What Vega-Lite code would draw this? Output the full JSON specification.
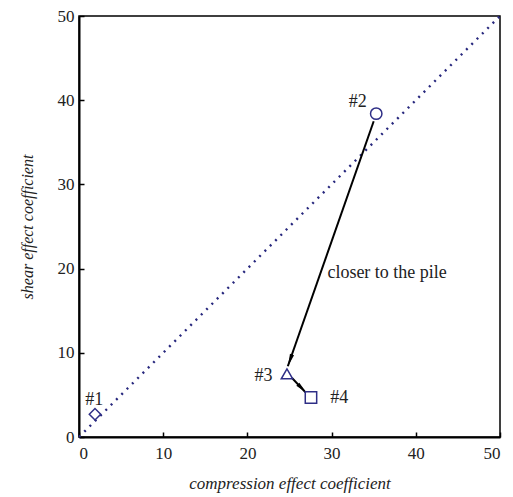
{
  "$schema": "https://vega.github.io/schema/vega-lite/v6.json",
  "width": 421,
  "height": 421,
  "autosize": {"type": "none"},
  "padding": {"left": 79, "top": 16, "right": 13, "bottom": 60},
  "background": "white",
  "config": {
    "font": "Liberation Serif",
    "view": {"stroke": "black", "strokeWidth": 1.5},
    "axis": {
      "grid": false,
      "domainColor": "black",
      "domainWidth": 2,
      "tickColor": "black",
      "tickWidth": 1.5,
      "tickSize": -5,
      "labelColor": "#222",
      "labelFontSize": 17,
      "labelFont": "Liberation Serif",
      "titleFont": "Liberation Serif",
      "titleFontSize": 17,
      "titleFontStyle": "italic",
      "titleFontWeight": "normal",
      "titleColor": "#222"
    }
  },
  "datasets": {
    "diag": [{"x": 0, "y": 0}, {"x": 50, "y": 50}],
    "points": [
      {"x": 1.9, "y": 2.7, "id": "#1", "shape": "diamond"},
      {"x": 35.3, "y": 38.4, "id": "#2", "shape": "circle"},
      {"x": 24.7, "y": 7.5, "id": "#3", "shape": "triangle-up"},
      {"x": 27.55, "y": 4.7, "id": "#4", "shape": "square"}
    ],
    "labels": [
      {"x": 1.8, "y": 4.4, "text": "#1"},
      {"x": 33.1, "y": 39.8, "text": "#2"},
      {"x": 21.9, "y": 7.2, "text": "#3"},
      {"x": 30.9, "y": 4.6, "text": "#4"}
    ],
    "arrows": [
      {"x": 35.0, "y": 37.5, "x2": 24.8, "y2": 8.4},
      {"x": 25.3, "y": 7.0, "x2": 26.9, "y2": 5.3}
    ],
    "heads": [
      {"x": 25.06, "y": 9.11, "angle": 199},
      {"x": 26.5, "y": 5.76, "angle": 135}
    ],
    "note": [{"x": 29.5, "y": 19.5, "text": "closer to the pile"}]
  },
  "layer": [
    {
      "data": {"name": "diag"},
      "mark": {"type": "line", "color": "#28287e", "strokeWidth": 2.4, "strokeDash": [2, 5.5]},
      "encoding": {
        "x": {"field": "x", "type": "quantitative", "scale": {"domain": [0, 50], "nice": false}, "axis": {"values": [0, 10, 20, 30, 40, 50], "title": "compression effect coefficient", "labelPadding": 13, "titlePadding": 14}},
        "y": {"field": "y", "type": "quantitative", "scale": {"domain": [0, 50], "nice": false}, "axis": {"values": [0, 10, 20, 30, 40, 50], "title": "shear effect coefficient", "titleFontSize": 16, "labelPadding": 10, "titlePadding": 22}}
      }
    },
    {
      "data": {"name": "arrows"},
      "mark": {"type": "rule", "color": "black", "strokeWidth": 2},
      "encoding": {
        "x": {"field": "x", "type": "quantitative"},
        "y": {"field": "y", "type": "quantitative"},
        "x2": {"field": "x2"},
        "y2": {"field": "y2"}
      }
    },
    {
      "data": {"name": "heads"},
      "mark": {"type": "point", "shape": "M0,-1L0.35,1L-0.35,1Z", "filled": true, "color": "black", "opacity": 1, "size": 150},
      "encoding": {
        "x": {"field": "x", "type": "quantitative"},
        "y": {"field": "y", "type": "quantitative"},
        "angle": {"field": "angle", "type": "quantitative", "scale": null}
      }
    },
    {
      "data": {"name": "points"},
      "mark": {"type": "point", "filled": false, "color": "#2e2e86", "strokeWidth": 1.5, "size": 130, "opacity": 1},
      "encoding": {
        "x": {"field": "x", "type": "quantitative"},
        "y": {"field": "y", "type": "quantitative"},
        "shape": {"field": "shape", "type": "nominal", "scale": null, "legend": null}
      }
    },
    {
      "data": {"name": "labels"},
      "mark": {"type": "text", "fontSize": 18, "color": "#222", "align": "center", "baseline": "middle"},
      "encoding": {
        "x": {"field": "x", "type": "quantitative"},
        "y": {"field": "y", "type": "quantitative"},
        "text": {"field": "text"}
      }
    },
    {
      "data": {"name": "note"},
      "mark": {"type": "text", "fontSize": 18, "color": "#222", "align": "left", "baseline": "middle"},
      "encoding": {
        "x": {"field": "x", "type": "quantitative"},
        "y": {"field": "y", "type": "quantitative"},
        "text": {"field": "text"}
      }
    }
  ]
}
